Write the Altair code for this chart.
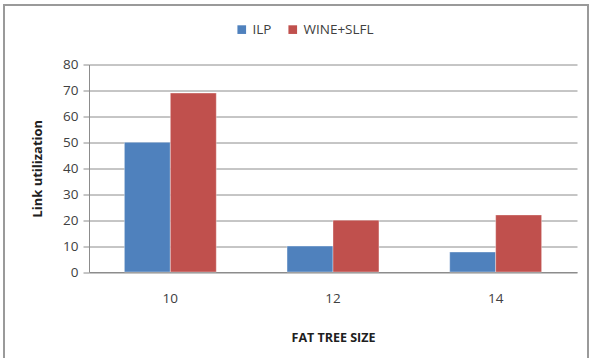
import altair as alt
import pandas as pd

# Fat-tree sizes and link utilization per method
sizes = ["10", "12", "14"]
ilp = [50, 10, 7.7]
wine_slfl = [69, 20, 22]
methods = ["ILP", "WINE+SLFL"]
colors = ["#4F81BD", "#C0504D"]

rows = []
for s, a, b in zip(sizes, ilp, wine_slfl):
    rows.append({"size": s, "method": methods[0], "value": a})
    rows.append({"size": s, "method": methods[1], "value": b})
df = pd.DataFrame(rows)

FONT = "Open Sans"
GRID = "#8c8c8c"
TEXT = "#404040"

bars = alt.Chart(df).mark_bar(stroke="white", strokeWidth=0.6, strokeOpacity=0.6).encode(
    x=alt.X(
        "size:N",
        sort=sizes,
        scale=alt.Scale(paddingInner=0.435, paddingOuter=0.2175),
        axis=alt.Axis(
            title="FAT TREE SIZE",
            labelAngle=0,
            labelPadding=19,
            ticks=False,
            domainColor=GRID,
            titlePadding=27,
            titleFontWeight="bold",
            titleFontSize=12.5,
        ),
    ),
    xOffset=alt.XOffset("method:N", sort=methods, scale=alt.Scale(paddingInner=0, paddingOuter=0)),
    y=alt.Y(
        "value:Q",
        scale=alt.Scale(domain=[0, 80], nice=False),
        axis=alt.Axis(
            title="Link utilization",
            values=list(range(0, 81, 10)),
            tickSize=6,
            tickColor=GRID,
            domainColor=GRID,
            gridColor=GRID,
            labelPadding=5,
            titlePadding=18,
            titleFontWeight="bold",
            titleFontSize=13,
        ),
    ),
    color=alt.Color(
        "method:N",
        sort=methods,
        scale=alt.Scale(domain=methods, range=colors),
        legend=alt.Legend(
            title=None,
            orient="none",
            direction="horizontal",
            legendX=146,
            legendY=-42,
            symbolType="square",
            symbolSize=75,
            symbolStrokeWidth=0,
            labelFontSize=13.5,
            labelColor=TEXT,
            columnPadding=14,
            labelOffset=4,
        ),
    ),
)

# Outer frame around the whole figure
frame = alt.Chart(alt.Data(values=[{}])).mark_rect(
    fill=None, stroke="#9a9a9a", strokeWidth=2
).encode(
    x=alt.value(-85), x2=alt.value(499), y=alt.value(-59.5), y2=alt.value(300)
)

chart = alt.layer(frame, bars).properties(
    width=488,
    height=207.5,
    padding={"left": 89, "top": 64.5, "right": 13, "bottom": 86},
    autosize=alt.AutoSizeParams(type="none"),
    background="white",
).configure_view(stroke=None).configure_axis(
    labelFont=FONT,
    titleFont=FONT,
    labelFontSize=13.5,
    labelColor=TEXT,
    titleColor="#202020",
    grid=True,
).configure_axisX(grid=False).configure_legend(labelFont=FONT)

chart.save("out.html", embed_options={"renderer": "svg", "actions": False})
